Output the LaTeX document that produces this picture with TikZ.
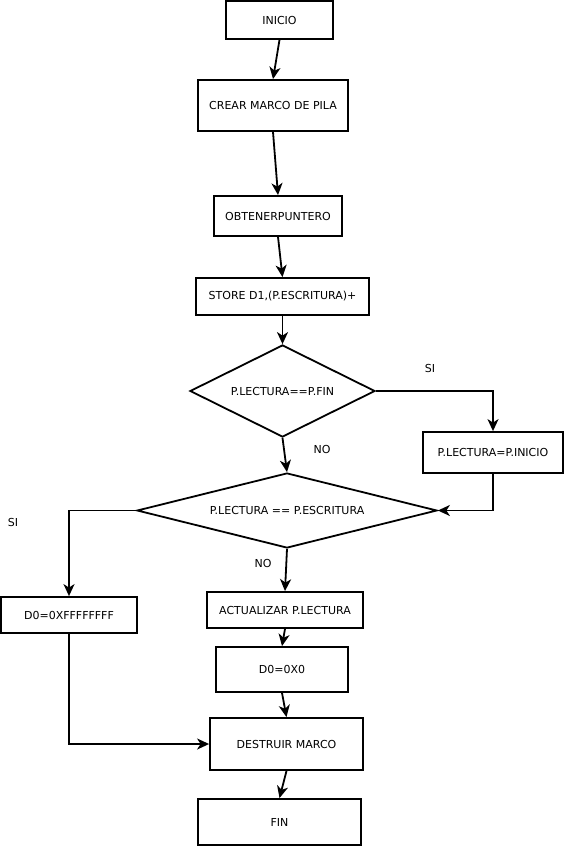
\documentclass[tikz,border=0pt]{standalone}
\usepackage{fontspec}
\setmainfont{DejaVu Sans}
\usetikzlibrary{shapes.geometric,arrows.meta}
\tikzset{
  txt/.style={font=\fontsize{11}{13}\selectfont},
  box/.style={draw=black, line width=1.8pt, rectangle, inner sep=0pt, txt},
  dec/.style={draw=black, line width=1.8pt, diamond, inner sep=0pt, txt},
  lab/.style={txt, inner sep=0pt},
  conn/.style={draw=black, line width=1.8pt, -{Stealth[length=12pt,width=11pt,inset=3.5pt]}}
}
\begin{document}
\begin{tikzpicture}[x=1pt,y=-1pt]
\fill[white] (0,0) rectangle (566,848);
\useasboundingbox (0,0) rectangle (566,848);
\node[box, minimum width=107pt, minimum height=38pt] (inicio) at (279.5,20) {INICIO};
\node[box, minimum width=150pt, minimum height=51pt] (crear) at (273,105.5) {CREAR MARCO DE PILA};
\node[box, minimum width=128pt, minimum height=40pt] (obt) at (278,216) {OBTENERPUNTERO};
\node[box, minimum width=173pt, minimum height=37pt] (store) at (282.5,296.5) {STORE D1,(P.ESCRITURA)+};
\node[dec, minimum width=185pt, minimum height=92pt, shape aspect=2] (d1) at (282.5,391) {P.LECTURA==P.FIN};
\node[box, minimum width=140pt, minimum height=41pt] (ini) at (493,452.5) {P.LECTURA=P.INICIO};
\node[dec, minimum width=300pt, minimum height=75pt, shape aspect=4] (d2) at (287,510.5) {P.LECTURA == P.ESCRITURA};
\node[box, minimum width=136pt, minimum height=36pt] (ff) at (69,615) {D0=0XFFFFFFFF};
\node[box, minimum width=156pt, minimum height=36pt] (act) at (285,610) {ACTUALIZAR P.LECTURA};
\node[box, minimum width=132pt, minimum height=45pt] (zero) at (282,669.5) {D0=0X0};
\node[box, minimum width=153pt, minimum height=52pt] (dest) at (286.5,744) {DESTRUIR MARCO};
\node[box, minimum width=163pt, minimum height=46pt] (fin) at (279.5,822) {FIN};
\node[lab] (si1) at (430,368) {SI};
\node[lab] (no1) at (322,449) {NO};
\node[lab] (si2) at (13,522) {SI};
\node[lab] (no2) at (263,563) {NO};
\draw[conn] (inicio.south) -- (crear.north);
\draw[conn] (crear.south) -- (obt.north);
\draw[conn] (obt.south) -- (store.north);
\draw[conn] (store.south) -- (d1.north);
\draw[conn] (d1.east) -| (ini.north);
\draw[conn] (d1.south) -- (d2.north);
\draw[conn] (ini.south) |- (d2.east);
\draw[conn] (d2.west) -| (ff.north);
\draw[conn] (d2.south) -- (act.north);
\draw[conn] (act.south) -- (zero.north);
\draw[conn] (zero.south) -- (dest.north);
\draw[conn] (ff.south) |- (dest.west);
\draw[conn] (dest.south) -- (fin.north);
\end{tikzpicture}
\end{document}
